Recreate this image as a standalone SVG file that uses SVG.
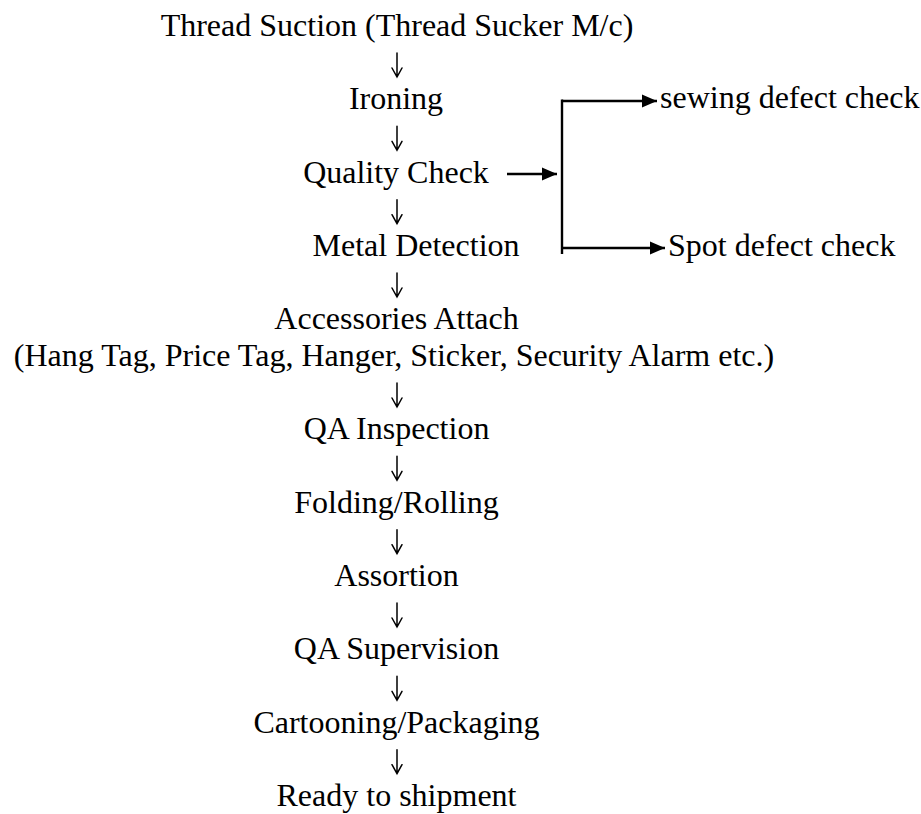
<svg xmlns="http://www.w3.org/2000/svg" width="921" height="814" viewBox="0 0 921 814">
  <style>
    text { font-family: "Liberation Serif", "Times New Roman", serif; font-size: 32px; fill: #000; }
    .c { text-anchor: middle; }
    .flow { stroke: #000; stroke-width: 2.4; fill: none; }
    .down { stroke: #000; stroke-width: 1.5; fill: none; stroke-linecap: round; stroke-linejoin: miter; }
  </style>
  <defs>
    <marker id="head" markerUnits="userSpaceOnUse" markerWidth="16" markerHeight="14" refX="15" refY="7" orient="auto">
      <path d="M0,0.5 L15,7 L0,13.5 Z" fill="#000"/>
    </marker>
    <!-- thin down arrow between steps, origin at the tip -->
    <path id="down" d="M0,-24 V0 M-5,-9 L0,0 L5,-9"/>
  </defs>
  <rect width="921" height="814" fill="#fff"/>

  <!-- process steps -->
  <g id="thread-suction"><text class="c" x="397" y="35.8">Thread Suction (Thread Sucker M/c)</text></g>
  <g id="ironing"><text class="c" x="396" y="109.1">Ironing</text></g>
  <g id="quality-check"><text class="c" x="396" y="182.5">Quality Check</text></g>
  <g id="metal-detection"><text class="c" x="416" y="255.8">Metal Detection</text></g>
  <g id="accessories-attach">
    <text class="c" x="396.5" y="329.2">Accessories Attach</text>
    <text class="c" x="394" y="365.8">(Hang Tag, Price Tag, Hanger, Sticker, Security Alarm etc.)</text>
  </g>
  <g id="qa-inspection"><text class="c" x="396.5" y="439.2">QA Inspection</text></g>
  <g id="folding-rolling"><text class="c" x="396.5" y="512.5">Folding/Rolling</text></g>
  <g id="assortion"><text class="c" x="396.5" y="585.8">Assortion</text></g>
  <g id="qa-supervision"><text class="c" x="396.5" y="659.2">QA Supervision</text></g>
  <g id="cartooning-packaging"><text class="c" x="396.5" y="732.5">Cartooning/Packaging</text></g>
  <g id="ready-to-shipment"><text class="c" x="396.5" y="805.8">Ready to shipment</text></g>

  <!-- quality check branches -->
  <g id="sewing-defect-check"><text x="660" y="108">sewing defect check</text></g>
  <g id="spot-defect-check"><text x="668" y="256">Spot defect check</text></g>

  <!-- connectors -->
  <g id="connectors">
    <g class="down">
      <use href="#down" x="397" y="77"/>
      <use href="#down" x="397" y="150.3"/>
      <use href="#down" x="397" y="223.7"/>
      <use href="#down" x="397" y="297"/>
      <use href="#down" x="397" y="407"/>
      <use href="#down" x="397" y="480.3"/>
      <use href="#down" x="397" y="553.7"/>
      <use href="#down" x="397" y="627"/>
      <use href="#down" x="397" y="700.3"/>
      <use href="#down" x="397" y="773.7"/>
    </g>
    <line class="flow" x1="507" y1="174" x2="557" y2="174" marker-end="url(#head)"/>
    <line class="flow" x1="562" y1="99.5" x2="562" y2="254" stroke-width="2"/>
    <line class="flow" x1="562" y1="101" x2="657" y2="101" marker-end="url(#head)"/>
    <line class="flow" x1="562" y1="248" x2="665" y2="248" marker-end="url(#head)"/>
  </g>
</svg>
